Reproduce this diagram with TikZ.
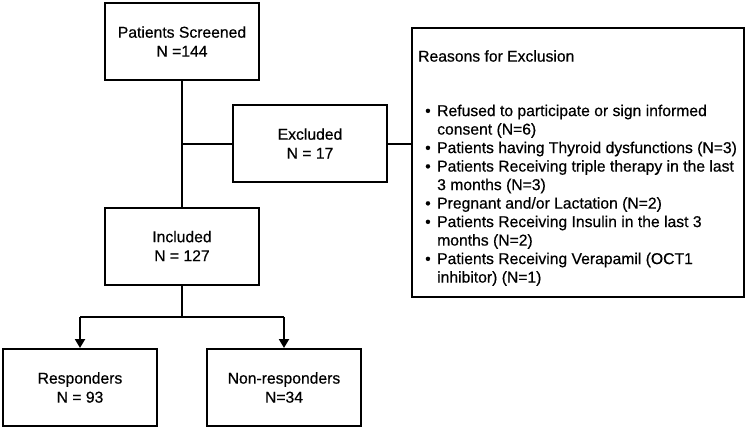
\documentclass[tikz,border=0pt]{standalone}
\usepackage{fontspec}
\setmainfont[FakeBold=0.5]{Liberation Sans}
\usetikzlibrary{arrows.meta}
\begin{document}
\begin{tikzpicture}[x=1pt,y=-1pt,
  box/.style={draw, line width=2pt, minimum width=154pt, minimum height=77pt, inner sep=0pt, align=center, font=\fontsize{15.7}{19}\selectfont},
  conn/.style={line width=2pt},
  arr/.style={line width=2pt, -{Triangle[length=9pt,width=10pt]}}]
\useasboundingbox (0,0) rectangle (750,429);
\node[box] (scr) at (182,41.5) {Patients Screened\\N =144};
\node[box] (exc) at (310,143.5) {Excluded\\N = 17};
\node[box] (inc) at (182,246) {Included\\N = 127};
\node[box] (resp) at (80,387.5) {Responders\\N = 93};
\node[box] (non) at (284,387.5) {Non-responders\\N=34};
\node[draw, line width=2pt, minimum width=332pt, minimum height=269pt, inner sep=0pt] (rsn) at (578,162.5) {};
\node[anchor=west, inner sep=0pt, font=\fontsize{15.7}{19}\selectfont] (title) at (418,56) {Reasons for Exclusion};
\node[anchor=north west, inner sep=0pt, align=left, font=\fontsize{15.7}{18.5}\selectfont] (list) at (425,104.5) {%
\makebox[12pt][l]{\textbullet}Refused to participate or sign informed\\
\hspace*{12pt}consent (N=6)\\
\makebox[12pt][l]{\textbullet}Patients having Thyroid dysfunctions (N=3)\\
\makebox[12pt][l]{\textbullet}Patients Receiving triple therapy in the last\\
\hspace*{12pt}3 months (N=3)\\
\makebox[12pt][l]{\textbullet}Pregnant and/or Lactation (N=2)\\
\makebox[12pt][l]{\textbullet}Patients Receiving Insulin in the last 3\\
\hspace*{12pt}months (N=2)\\
\makebox[12pt][l]{\textbullet}Patients Receiving Verapamil (OCT1\\
\hspace*{12pt}inhibitor) (N=1)};
\coordinate (j1) at (scr.south |- exc.west);
\coordinate (j2) at (182,317);
\coordinate (jl) at (resp.north |- j2);
\coordinate (jr) at (non.north |- j2);
\draw[conn] (scr.south) -- (inc.north);
\draw[conn] (j1) -- (exc.west);
\draw[conn] (exc.east) -- (exc.east -| rsn.west);
\draw[conn] (inc.south) -- (j2);
\draw[conn] (jl) -- (jr);
\draw[arr] (jl) -- (resp.north);
\draw[arr] (jr) -- (non.north);
\end{tikzpicture}
\end{document}
